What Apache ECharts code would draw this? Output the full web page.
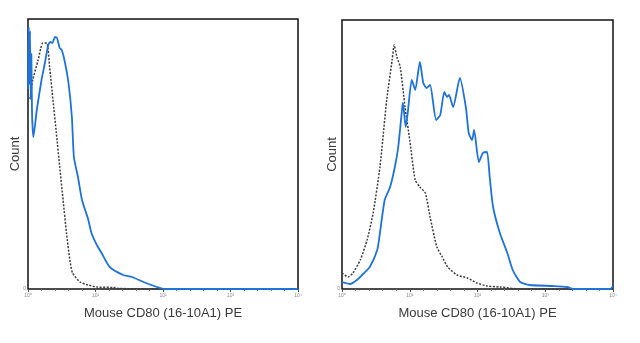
<!DOCTYPE html>
<html>
<head>
<meta charset="utf-8">
<script src="https://cdn.jsdelivr.net/npm/echarts@6/dist/echarts.min.js"></script>
<style>html,body{margin:0;padding:0;background:#fff}#c{width:640px;height:343px}</style>
</head>
<body>
<div id="c"></div>
<script>
// x in decades (log10 of PE intensity), y = relative count
var xTicks = [0, 1, 2, 3, 4];
var xTickLabels = ['10\u2070', '10\u00b9', '10\u00b2', '10\u00b3', '10\u2074'];
var xTitle = 'Mouse CD80 (16-10A1) PE';
var yTitle = 'Count';

// Left panel
var leftBlue = [
  [0.00,200],[0.01,262],[0.02,205],[0.03,258],[0.04,190],[0.05,235],[0.06,175],[0.08,152],
  [0.13,179],[0.20,209],[0.25,226],[0.30,244],[0.33,247],[0.36,246],[0.40,252],[0.43,251],
  [0.47,241],[0.50,239],[0.54,229],[0.60,206],[0.65,172],[0.68,132],[0.74,112],[0.80,89],
  [0.89,70],[0.94,56],[1.02,44],[1.09,36],[1.21,22],[1.41,14],[1.54,12],[1.71,7],
  [1.91,2],[2.03,0],[3.00,0],[4.00,0]
];
var leftIso = [
  [0.03,190],[0.07,209],[0.15,229],[0.19,241],[0.22,246],[0.28,246],[0.32,222],[0.37,189],
  [0.42,156],[0.47,122],[0.52,89],[0.57,56],[0.62,29],[0.66,16],[0.77,7],[0.89,4],
  [1.02,2],[1.26,1.5],[1.36,0.5],[2.00,0],[4.00,0]
];

// Right panel
var rightBlue = [
  [0.00,7],[0.12,5],[0.22,9],[0.31,15],[0.41,22],[0.52,39],[0.56,56],[0.63,89],[0.71,102],
  [0.78,122],[0.83,142],[0.89,182],[0.90,186],[0.94,162],[0.97,176],[1.03,209],[1.08,199],
  [1.15,227],[1.20,206],[1.25,201],[1.30,204],[1.39,169],[1.45,174],[1.51,197],[1.55,192],
  [1.58,194],[1.64,182],[1.74,211],[1.83,181],[1.87,156],[1.92,149],[1.95,159],[2.02,127],
  [2.08,136],[2.14,137],[2.18,112],[2.23,82],[2.33,56],[2.44,36],[2.52,19],[2.63,7],
  [2.77,4],[3.11,3],[3.32,2],[3.41,0],[3.96,0],[4.00,3]
];
var rightIso = [
  [0.00,16],[0.09,12],[0.16,16],[0.27,29],[0.37,49],[0.46,76],[0.56,122],[0.66,189],
  [0.74,229],[0.77,244],[0.81,232],[0.86,222],[0.93,182],[1.00,149],[1.08,109],[1.15,102],
  [1.23,96],[1.30,72],[1.40,42],[1.48,32],[1.56,22],[1.70,14],[1.85,11],[1.99,6],
  [2.14,3],[2.33,2],[2.63,0],[4.00,0]
];

var chart = echarts.init(document.getElementById('c'), null, {renderer: 'canvas'});
var FONT = 'Liberation Sans, Arial, sans-serif';
var blue = '#1f72d8';
var iso = '#3c3c3c';

function xAxisFor(gi) {
  return {
    gridIndex: gi, type: 'value', min: 0, max: 4, interval: 1,
    name: xTitle, nameLocation: 'middle', nameGap: 18, nameMoveOverlap: false,
    nameTextStyle: {fontFamily: FONT, fontSize: 13, color: '#3a3a3a'},
    axisLine: {show: false},
    axisTick: {show: true, length: 3, inside: false, lineStyle: {color: '#555', width: 1}},
    minorTick: {show: true, splitNumber: 5, length: 2, lineStyle: {color: '#777', width: 1}},
    axisLabel: {fontFamily: FONT, fontSize: 5, color: '#888', margin: 4,
      formatter: function (v) { var i = xTicks.indexOf(v); return i >= 0 ? xTickLabels[i] : ''; }},
    splitLine: {show: false}
  };
}
function yAxisFor(gi, max, gap) {
  return {
    gridIndex: gi, type: 'value', min: 0, max: max,
    name: yTitle, nameLocation: 'middle', nameGap: gap, nameRotate: 90, nameMoveOverlap: false,
    nameTextStyle: {fontFamily: FONT, fontSize: 13, color: '#3a3a3a'},
    axisLine: {show: false}, axisTick: {show: false}, splitLine: {show: false},
    axisLabel: {fontFamily: FONT, fontSize: 5, color: '#888', margin: 2,
      formatter: function (v) { return v === 0 ? '0' : ''; }}
  };
}
function line(data, xi, color, type, width) {
  return {
    type: 'line', xAxisIndex: xi, yAxisIndex: xi, data: data, showSymbol: false,
    smooth: 0.2, lineStyle: {color: color, type: type, width: width}, z: type === 'solid' ? 3 : 2,
    animation: false
  };
}

chart.setOption({
  animation: false,
  grid: [
    {left: 28, top: 19, width: 270, height: 270, show: true, borderColor: '#111', borderWidth: 1.5, backgroundColor: 'transparent'},
    {left: 342, top: 20, width: 271, height: 269, show: true, borderColor: '#111', borderWidth: 1.5, backgroundColor: 'transparent'}
  ],
  xAxis: [xAxisFor(0), xAxisFor(1)],
  yAxis: [yAxisFor(0, 270, 6), yAxisFor(1, 269, 3)],
  series: [
    line(leftIso, 0, iso, [2, 1.5], 1.5),
    line(leftBlue, 0, blue, 'solid', 1.8),
    line(rightIso, 1, iso, [2, 1.5], 1.5),
    line(rightBlue, 1, blue, 'solid', 1.8)
  ]
});
</script>
</body>
</html>
